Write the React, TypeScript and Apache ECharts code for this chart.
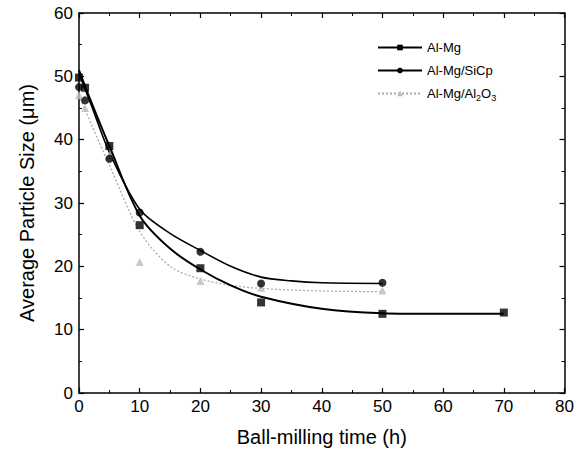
import React, { useEffect, useRef } from "react";
import * as echarts from "echarts";

const timeMg = [0, 1, 5, 10, 20, 30, 50, 70];
const sizeMg = [49.8, 48.2, 39, 26.5, 19.7, 14.3, 12.5, 12.7];
const timeSiC = [0, 1, 5, 10, 20, 30, 50];
const sizeSiC = [48.3, 46.2, 37, 28.5, 22.3, 17.3, 17.4];
const timeAl2O3 = [0, 1, 5, 10, 20, 30, 50];
const sizeAl2O3 = [47, 45, 37.5, 20.7, 17.7, 16.6, 16.2];

// fitted curves
const curveMgX = [0, 2, 5, 10, 15, 20, 25, 30, 40, 50, 60, 70];
const curveMgY = [51, 46, 39, 28, 22.8, 19.5, 17, 15.2, 13.3, 12.6, 12.5, 12.5];
const curveSiCX = [0, 2, 5, 10, 15, 20, 25, 30, 35, 40, 50];
const curveSiCY = [50.5, 45.5, 38, 29, 25.2, 22.5, 20, 18.3, 17.7, 17.4, 17.3];
const curveAlX = [0, 2, 5, 10, 15, 20, 25, 30, 40, 50];
const curveAlY = [47, 42.5, 36, 25.5, 20, 18, 17, 16.5, 16.1, 16];

const zip = (xs: number[], ys: number[]) => xs.map((x, i) => [x, ys[i]]);

export default function App() {
  const ref = useRef<HTMLDivElement>(null);
  useEffect(() => {
    const chart = echarts.init(ref.current!, null, { renderer: "svg" });
    const font = "Liberation Sans, Arial, sans-serif";
    const axisCommon = {
      axisLine: { show: true, onZero: false, lineStyle: { color: "#000", width: 1.5 } },
      axisTick: { show: true, inside: true, length: 5, lineStyle: { color: "#000", width: 1.2 } },
      minorTick: { show: true, splitNumber: 2, length: 3, lineStyle: { color: "#000", width: 1 } },
      splitLine: { show: false },
    };
    chart.setOption({
      animation: false,
      backgroundColor: "#fff",
      grid: { left: 79, right: 12, top: 13, bottom: 63 },
      legend: {
        orient: "vertical",
        left: 372,
        top: 36,
        itemWidth: 44,
        itemHeight: 7,
        itemGap: 10,
        data: ["Al-Mg", "Al-Mg/SiCp", "Al-Mg/Al2O3"],
        textStyle: {
          fontFamily: font,
          fontSize: 13,
          color: "#000",
          rich: {
            a: { fontFamily: font, fontSize: 13, color: "#000" },
            s: { fontFamily: font, fontSize: 9, color: "#000", padding: [8, 0, 0, 0] },
          },
        },
        formatter: (name: string) =>
          name === "Al-Mg/Al2O3" ? "{a|Al-Mg/Al}{s|2}{a|O}{s|3}" : name,
      },
      xAxis: [
        {
          type: "value",
          min: 0,
          max: 80,
          interval: 10,
          name: "Ball-milling time (h)",
          nameLocation: "middle",
          nameGap: 34,
          nameTextStyle: { fontFamily: font, fontSize: 20, color: "#000" },
          axisLabel: { fontFamily: font, fontSize: 17, color: "#000", margin: 5 },
          ...axisCommon,
        },
        {
          type: "value",
          position: "top",
          min: 0,
          max: 80,
          interval: 10,
          axisLabel: { show: false },
          ...axisCommon,
        },
      ],
      yAxis: [
        {
          type: "value",
          min: 0,
          max: 60,
          interval: 10,
          name: "Average Particle Size (\u03bcm)",
          nameLocation: "middle",
          nameGap: 42,
          nameTextStyle: { fontFamily: font, fontSize: 20, color: "#000" },
          axisLabel: { fontFamily: font, fontSize: 17, color: "#000", margin: 6 },
          ...axisCommon,
        },
        {
          type: "value",
          position: "right",
          min: 0,
          max: 60,
          interval: 10,
          axisLabel: { show: false },
          ...axisCommon,
        },
      ],
      series: [
        {
          name: "Al-Mg",
          type: "line",
          smooth: 0.3,
          data: zip(curveMgX, curveMgY),
          showSymbol: false,
          symbol: "rect",
          symbolSize: 6,
          itemStyle: { color: "#000" },
          lineStyle: { color: "#000", width: 2 },
          z: 3,
        },
        {
          name: "Al-Mg/SiCp",
          type: "line",
          smooth: 0.3,
          data: zip(curveSiCX, curveSiCY),
          showSymbol: false,
          symbol: "circle",
          symbolSize: 7,
          itemStyle: { color: "#000" },
          lineStyle: { color: "#000", width: 1.6 },
          z: 3,
        },
        {
          name: "Al-Mg/Al2O3",
          type: "line",
          smooth: 0.3,
          data: zip(curveAlX, curveAlY),
          showSymbol: false,
          symbol: "triangle",
          symbolSize: 6,
          itemStyle: { color: "#bbb" },
          lineStyle: { color: "#aaa", width: 1.3, type: [2, 2] },
          z: 2,
        },
        {
          name: "Al-Mg pts",
          type: "scatter",
          data: zip(timeMg, sizeMg),
          symbol: "rect",
          symbolSize: 8,
          itemStyle: { color: "#000" },
          z: 5,
        },
        {
          name: "Al-Mg/SiCp pts",
          type: "scatter",
          data: zip(timeSiC, sizeSiC),
          symbol: "circle",
          symbolSize: 8,
          itemStyle: { color: "#000" },
          z: 5,
        },
        {
          name: "Al-Mg/Al2O3 pts",
          type: "scatter",
          data: zip(timeAl2O3, sizeAl2O3),
          symbol: "triangle",
          symbolSize: 8,
          itemStyle: { color: "#bbb" },
          z: 4,
        },
      ],
    });
    return () => chart.dispose();
  }, []);
  return <div ref={ref} style={{ width: 577, height: 456, position: "absolute", left: 0, top: 0 }} />;
}
